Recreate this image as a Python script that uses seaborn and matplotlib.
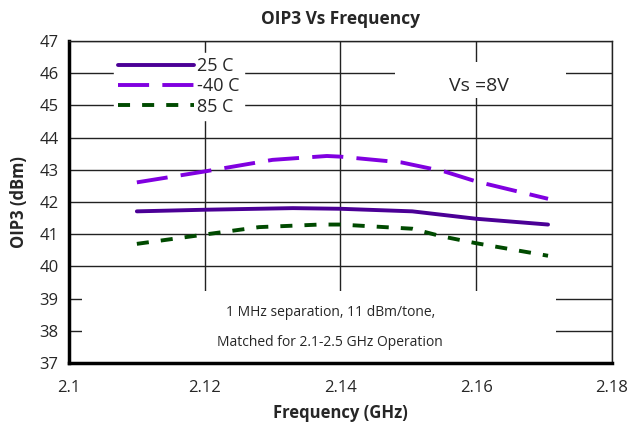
import matplotlib
matplotlib.use("Agg")
import matplotlib.pyplot as plt
from matplotlib.patches import Rectangle
from matplotlib.lines import Line2D
import seaborn as sns
import pandas as pd

freq_25 = [2.110, 2.120, 2.133, 2.140, 2.1506, 2.160, 2.1706]
oip3_25 = [41.71, 41.76, 41.81, 41.79, 41.71, 41.48, 41.30]
freq_m40 = [2.110, 2.120, 2.130, 2.138, 2.140, 2.149, 2.1553, 2.160, 2.1706]
oip3_m40 = [42.61, 42.95, 43.31, 43.43, 43.41, 43.23, 42.95, 42.64, 42.10]
freq_85 = [2.110, 2.120, 2.128, 2.137, 2.140, 2.1506, 2.1548, 2.160, 2.1706]
oip3_85 = [40.70, 40.99, 41.22, 41.30, 41.30, 41.17, 40.94, 40.72, 40.33]
labels = ["25 C", "-40 C", "85 C"]
xticks = [2.1, 2.12, 2.14, 2.16, 2.18]
xticklabels = ["2.1", "2.12", "2.14", "2.16", "2.18"]
yticks = list(range(37, 48))

sns.set_style("white")
plt.rcParams['font.family'] = ['Open Sans', 'DejaVu Sans']

df = pd.DataFrame({
    "freq": freq_25 + freq_m40 + freq_85,
    "oip3": oip3_25 + oip3_m40 + oip3_85,
    "temp": [labels[0]] * len(freq_25) + [labels[1]] * len(freq_m40) + [labels[2]] * len(freq_85),
})

fig = plt.figure(figsize=(6.29, 4.28), dpi=100)
ax = fig.add_axes([0.1097, 0.152, 0.863, 0.752])

palette = {labels[0]: "#4B0096", labels[1]: "#8000E0", labels[2]: "#004A00"}
dashes = {labels[0]: "", labels[1]: (8, 3.4), labels[2]: (3.1, 3.1)}
sns.lineplot(data=df, x="freq", y="oip3", hue="temp", style="temp",
             palette=palette, dashes=dashes, linewidth=2.8, ax=ax, legend=False,
             sort=True, estimator=None)

ax.set_xlim(2.1, 2.18)
ax.set_ylim(37, 47)
ax.set_xticks(xticks)
ax.set_xticklabels(xticklabels)
ax.set_yticks(yticks)
ax.grid(True, color="#222222", linewidth=1.0)
ax.set_axisbelow(True)
for s in ["top", "right"]:
    ax.spines[s].set_linewidth(1.0)
    ax.spines[s].set_color("#222222")
for s in ["left", "bottom"]:
    ax.spines[s].set_linewidth(2.5)
    ax.spines[s].set_color("black")
ax.tick_params(axis="y", direction="inout", length=9, width=2.5, labelsize=12, pad=3)
ax.tick_params(axis="x", direction="out", length=5, width=2.5, labelsize=12, pad=7)

ax.set_xlabel("Frequency (GHz)", fontsize=12, fontweight="bold", labelpad=6)
ax.set_ylabel("OIP3 (dBm)", fontsize=12, fontweight="bold")
ax.yaxis.set_label_coords(-0.075, 0.5)
ax.set_title("OIP3 Vs Frequency", fontsize=12.5, fontweight="bold", pad=12)

# white boxes behind the annotations (hide grid lines)
ax.add_patch(Rectangle((2.1019, 37.03), 0.0698, 2.21, facecolor="white",
                       edgecolor="none", zorder=1.5))
ax.add_patch(Rectangle((2.1481, 45.23), 0.0251, 1.12, facecolor="white",
                       edgecolor="none", zorder=1.5))

handles = [Line2D([], [], color=palette[labels[0]], linewidth=2.8, linestyle="-"),
           Line2D([], [], color=palette[labels[1]], linewidth=2.8, linestyle=(0, (8, 3.4))),
           Line2D([], [], color=palette[labels[2]], linewidth=2.8, linestyle=(0, (3.1, 3.1)))]
leg = ax.legend(handles, labels, loc="upper left", bbox_to_anchor=(0.066, 0.992),
                frameon=True, fancybox=False, edgecolor="white", framealpha=1,
                fontsize=13, handlelength=4.2, handletextpad=0.15, labelspacing=0.12,
                borderpad=0.25)

ax.text(2.1604, 45.6, "Vs =8V", fontsize=14, ha="center", va="center", zorder=3)
ax.text(2.1385, 38.58, "1 MHz separation, 11 dBm/tone,", fontsize=10, ha="center",
        va="center", zorder=3)
ax.text(2.1385, 37.65, "Matched for 2.1-2.5 GHz Operation", fontsize=10, ha="center",
        va="center", zorder=3)

fig.savefig("out.png", dpi=100)
